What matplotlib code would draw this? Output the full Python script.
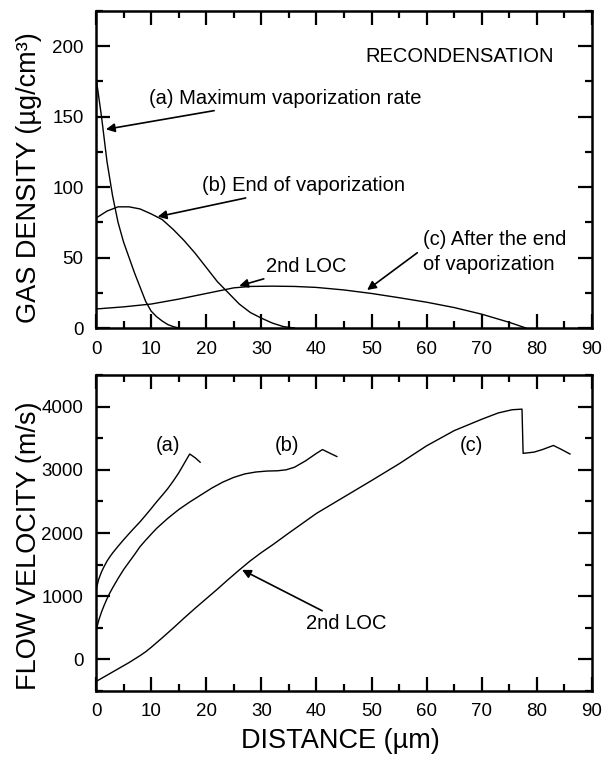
import numpy as np
import matplotlib
matplotlib.use("Agg")
import matplotlib.pyplot as plt
from matplotlib.ticker import MultipleLocator

plt.rcParams['font.family'] = ['Liberation Sans', 'DejaVu Sans']

# gas density profiles (ug/cm^3) vs distance (um)
x_dens_a = [0, 1, 2, 3, 4, 5, 6, 7, 8, 9, 10, 11, 12, 13, 14, 15]
dens_a = [178, 150, 118, 94, 75, 61, 50, 39, 29, 19, 12, 8, 5, 2.5, 1, 0]

x_dens_b = [0, 2, 4, 6, 8, 10, 12, 14, 16, 18, 20, 22, 24, 26, 28, 30, 32, 34, 36]
dens_b = [78, 83, 86, 86, 84.5, 81, 77, 70, 62, 53, 43, 33, 25, 17, 11, 7, 3.5, 1, 0]

x_dens_c = [0, 5, 10, 15, 20, 25, 28, 32, 36, 40, 45, 50, 55, 60, 65, 70, 75, 78]
dens_c = [13.5, 15, 17, 20.5, 24.5, 28.5, 29.5, 29.7, 29.5, 28.8, 27, 24.5, 21.5, 18.3, 14.5, 9.8, 4, 0]

# flow velocity profiles (m/s) vs distance (um)
x_vel_a = [0, 0.5, 1, 1.5, 2, 2.5, 3, 4, 5, 6, 7, 8, 9, 10, 11, 12, 13, 14, 15, 16, 17,
           18, 18.9]
vel_a = [1100, 1270, 1385, 1475, 1555, 1622, 1682, 1790, 1892, 1990, 2085, 2178, 2280,
         2385, 2493, 2595, 2700, 2820, 2950, 3100, 3250, 3190, 3120]

x_vel_b = [0, 0.5, 1, 1.5, 2, 2.5, 3, 4, 5, 6, 7, 8, 9, 10, 11, 13, 15, 17, 19, 21, 23,
           25, 27, 29, 31, 33, 34.5, 36, 38, 40, 41.1, 42.5, 43.7]
vel_b = [450, 620, 750, 860, 960, 1050, 1130, 1280, 1420, 1540, 1660, 1785, 1885, 1980,
         2073, 2230, 2370, 2490, 2600, 2710, 2805, 2880, 2935, 2965, 2980, 2985, 3000,
         3040, 3140, 3260, 3320, 3260, 3210]

x_vel_c = [0, 2, 4, 6, 8, 9, 10, 12, 14, 16, 18, 20, 22, 24, 26, 28, 30, 32, 35, 40, 45,
           50, 55, 60, 65, 70, 73, 75.5, 77.3, 77.5, 79.5, 81, 83, 84.5, 86]
vel_c = [-350, -250, -150, -50, 60, 120, 190, 340, 495, 655, 810, 960, 1110, 1265, 1415,
         1560, 1690, 1810, 2000, 2310, 2570, 2830, 3095, 3380, 3620, 3800, 3900, 3950,
         3960, 3260, 3280, 3320, 3385, 3320, 3250]

fig = plt.figure(figsize=(6.03, 7.62), dpi=100)
ax1 = fig.add_axes([96 / 603, 1 - 328 / 762, 496 / 603, 317 / 762])
ax2 = fig.add_axes([96 / 603, 1 - 691 / 762, 496 / 603, 316 / 762])

lw = 1.0
ax1.plot(x_dens_a, dens_a, color='k', lw=lw)
ax1.plot(x_dens_b, dens_b, color='k', lw=lw)
ax1.plot(x_dens_c, dens_c, color='k', lw=lw)

ax2.plot(x_vel_a, vel_a, color='k', lw=lw)
ax2.plot(x_vel_b, vel_b, color='k', lw=lw)
ax2.plot(x_vel_c, vel_c, color='k', lw=lw)

ax1.set_xlim(0, 90)
ax1.set_ylim(0, 225)
ax1.xaxis.set_major_locator(MultipleLocator(10))
ax1.xaxis.set_minor_locator(MultipleLocator(5))
ax1.yaxis.set_major_locator(MultipleLocator(50))
ax1.yaxis.set_minor_locator(MultipleLocator(25))

ax2.set_xlim(0, 90)
ax2.set_ylim(-500, 4500)
ax2.xaxis.set_major_locator(MultipleLocator(10))
ax2.xaxis.set_minor_locator(MultipleLocator(5))
ax2.yaxis.set_major_locator(MultipleLocator(1000))
ax2.yaxis.set_minor_locator(MultipleLocator(500))

for ax in (ax1, ax2):
    for sp in ax.spines.values():
        sp.set_linewidth(1.8)
    ax.tick_params(which='both', direction='in', top=True, right=True,
                   width=1.6, labelsize=13.5, pad=9)
    ax.tick_params(which='major', length=10)
    ax.tick_params(which='minor', length=5)

arrow = dict(arrowstyle='-|>', color='k', lw=1.2, mutation_scale=13,
             shrinkA=0, shrinkB=0)
fs = 14.5

ax1.text(48.8, 193, 'RECONDENSATION', fontsize=fs, va='center')
ax1.annotate('(a) Maximum vaporization rate', xy=(1.8, 141), xytext=(9.6, 163),
             fontsize=fs, va='center', arrowprops=arrow)
ax1.annotate('(b) End of vaporization', xy=(11.2, 79), xytext=(19.2, 101),
             fontsize=fs, va='center', arrowprops=arrow)
ax1.annotate('2nd LOC', xy=(26.0, 29.9), xytext=(30.9, 43.6),
             fontsize=fs, va='center', arrowprops=arrow)
ax1.annotate('', xy=(49.2, 27), xytext=(58.3, 53.4), arrowprops=arrow)
ax1.text(59.3, 54, '(c) After the end\nof vaporization', fontsize=fs,
         va='center', linespacing=1.4)

ax2.text(13.0, 3386, '(a)', fontsize=fs, ha='center', va='center')
ax2.text(34.6, 3386, '(b)', fontsize=fs, ha='center', va='center')
ax2.text(68.1, 3380, '(c)', fontsize=fs, ha='center', va='center')
ax2.annotate('2nd LOC', xy=(26.5, 1417), xytext=(38.1, 575),
             fontsize=fs, va='center', arrowprops=arrow)

fig.text(29 / 603, 1 - 178 / 762, 'GAS DENSITY (\u00b5g/cm\u00b3)', rotation=90,
         fontsize=19.5, ha='center', va='center')
fig.text(29 / 603, 1 - 546 / 762, 'FLOW VELOCITY (m/s)', rotation=90,
         fontsize=19.5, ha='center', va='center')
fig.text(340 / 603, 1 - 741 / 762, 'DISTANCE (\u00b5m)', fontsize=19.5,
         ha='center', va='center')

fig.savefig('out.png', dpi=100)
